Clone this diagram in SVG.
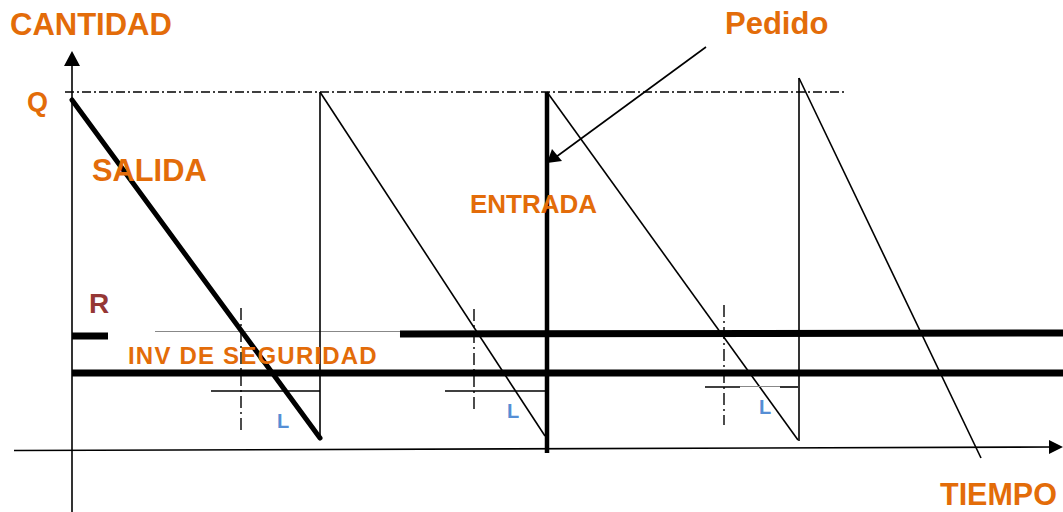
<svg xmlns="http://www.w3.org/2000/svg" width="1063" height="512" viewBox="0 0 1063 512">
<style>
.t{font-family:"Liberation Sans",Arial,sans-serif;font-weight:bold;fill:#E36C09}
.thin{stroke:#000;stroke-width:1.6;fill:none}
.thick{stroke:#000;stroke-width:7;fill:none}
.dd{stroke:#000;stroke-width:1.4;fill:none;stroke-dasharray:12 4 2 4}
.lbl{font-family:"Liberation Sans",Arial,sans-serif;font-weight:bold;fill:#558ED5;font-size:20px}
</style>
<rect width="1063" height="512" fill="#fff"/>
<g id="connectors">
<!-- axes -->
<line x1="72" y1="512" x2="72" y2="66" class="thin"/>
<path d="M64,66 L72,51 L80,66 z" fill="#000"/>
<line x1="14" y1="450.5" x2="1054" y2="447" class="thin"/>
<path d="M1049,440 L1063,447 L1049,454 z" fill="#000"/>
<!-- Q line -->
<line x1="65" y1="92" x2="847" y2="92" stroke="#000" stroke-width="1.5" stroke-dasharray="9 3 2 3"/>
<!-- reorder R line -->
<line x1="72" y1="336" x2="108" y2="336" stroke="#000" stroke-width="7"/>
<line x1="155" y1="331.5" x2="400" y2="331.5" stroke="#888" stroke-width="1"/>
<line x1="400" y1="334" x2="1063" y2="333" stroke="#000" stroke-width="7"/>
<!-- safety stock -->
<line x1="72" y1="373" x2="1063" y2="373" class="thick"/>
<!-- sawtooth -->
<line x1="72" y1="100" x2="320" y2="438" stroke="#000" stroke-width="5" stroke-linecap="round"/>
<line x1="320" y1="439" x2="320" y2="92" class="thin"/>
<line x1="320" y1="92" x2="545" y2="436" class="thin"/>
<line x1="547" y1="92" x2="547" y2="453" stroke="#000" stroke-width="4.5"/>
<line x1="547" y1="92" x2="798" y2="440" class="thin"/>
<line x1="799" y1="441" x2="799" y2="78" class="thin"/>
<line x1="799" y1="78" x2="981" y2="458" class="thin"/>
<!-- lead time markers -->
<line x1="211" y1="391" x2="320" y2="391" class="thin"/>
<line x1="241" y1="308" x2="241" y2="434" class="dd"/>
<line x1="445" y1="391" x2="545" y2="391" class="thin"/>
<line x1="474" y1="309" x2="474" y2="413" class="dd"/>
<line x1="705" y1="387" x2="740" y2="387" class="thin"/>
<line x1="740" y1="386.5" x2="780" y2="386.5" stroke="#888" stroke-width="1"/>
<line x1="780" y1="387" x2="798" y2="387" class="thin"/>
<line x1="724" y1="305" x2="724" y2="425" class="dd"/>
<!-- Pedido arrow -->
<line x1="706" y1="47" x2="556" y2="157" class="thin"/>
<path d="M547,163 L552,149 L562,161 z" fill="#000"/>
</g>
<g id="labels">
<text class="t" x="10" y="35" font-size="31">CANTIDAD</text>
<text class="t" x="27" y="111" font-size="27">Q</text>
<text class="t" x="92" y="181" font-size="30.8">SALIDA</text>
<text class="t" x="725" y="34" font-size="31">Pedido</text>
<text class="t" x="470" y="213" font-size="26">ENTRADA</text>
<text x="89" y="313" font-family="Liberation Sans, Arial, sans-serif" font-weight="bold" font-size="28" fill="#953735">R</text>
<text class="t" x="128" y="364" font-size="24" letter-spacing="1.2">INV DE SEGURIDAD</text>
<text class="lbl" x="277" y="428">L</text>
<text class="lbl" x="507" y="418">L</text>
<text class="lbl" x="759" y="414">L</text>
<text class="t" x="940" y="505" font-size="30.5">TIEMPO</text>
</g>
</svg>
